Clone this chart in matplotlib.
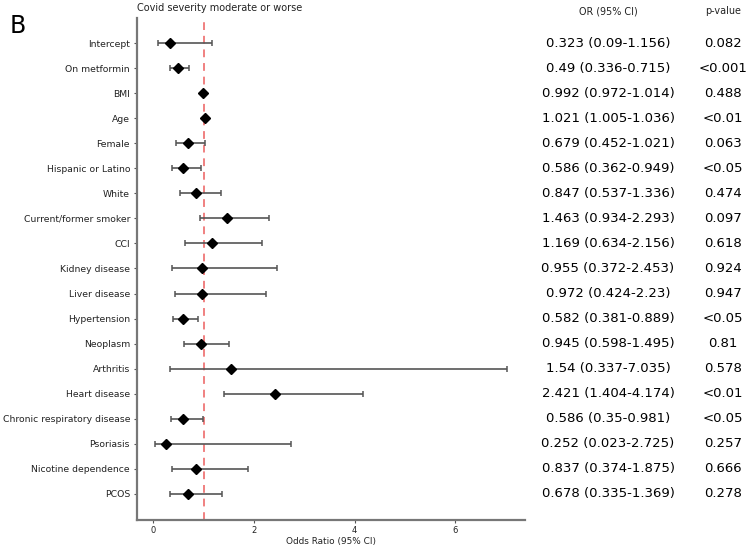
import numpy as np
import matplotlib
matplotlib.use("Agg")
from matplotlib import pyplot as plt
from matplotlib.transforms import blended_transform_factory

labels = ["Intercept", "On metformin", "BMI", "Age", "Female", "Hispanic or Latino",
          "White", "Current/former smoker", "CCI", "Kidney disease", "Liver disease",
          "Hypertension", "Neoplasm", "Arthritis", "Heart disease",
          "Chronic respiratory disease", "Psoriasis", "Nicotine dependence", "PCOS"]
odds = [0.323, 0.49, 0.992, 1.021, 0.679, 0.586, 0.847, 1.463, 1.169, 0.955, 0.972,
        0.582, 0.945, 1.54, 2.421, 0.586, 0.252, 0.837, 0.678]
lower = [0.09, 0.336, 0.972, 1.005, 0.452, 0.362, 0.537, 0.934, 0.634, 0.372, 0.424,
         0.381, 0.598, 0.337, 1.404, 0.35, 0.023, 0.374, 0.335]
upper = [1.156, 0.715, 1.014, 1.036, 1.021, 0.949, 1.336, 2.293, 2.156, 2.453, 2.23,
         0.889, 1.495, 7.035, 4.174, 0.981, 2.725, 1.875, 1.369]
pvals = ["0.082", "<0.001", "0.488", "<0.01", "0.063", "<0.05", "0.474", "0.097", "0.618",
         "0.924", "0.947", "<0.05", "0.81", "0.578", "<0.01", "<0.05", "0.257", "0.666", "0.278"]

odds = np.array(odds)
lower = np.array(lower)
upper = np.array(upper)
y = np.arange(len(labels))

fig = plt.figure(figsize=(7.5, 5.47), dpi=100)
ax = fig.add_axes([137 / 750, 27 / 547, (525 - 137) / 750, (520 - 18) / 547])

# CI whiskers, point estimates and the OR=1 reference line
ax.errorbar(odds, y, xerr=[odds - lower, upper - odds], fmt="none",
            ecolor="#555555", elinewidth=1.2, capsize=2.5, capthick=1.1, zorder=2)
ax.plot(odds, y, "D", color="black", ms=5, zorder=3)
ax.axvline(1, color="#f08080", ls=(0, (4, 3)), lw=1.4, zorder=1)

ax.set_ylim(len(labels) - 1 + 1.04, -1)
ax.set_yticks(y)
ax.set_yticklabels(labels, fontsize=6.7, color="#222222")
ax.set_xticks([0, 2, 4, 6])
ax.tick_params(axis="x", labelsize=6, length=2.5, pad=2, color="#555555", labelcolor="#222222")
ax.tick_params(axis="y", length=2.5, pad=2.5, color="#555555")
ax.set_xlabel("Odds Ratio (95% CI)", fontsize=6.4, labelpad=1.5, color="#222222")
for s in ["top", "right"]:
    ax.spines[s].set_visible(False)
for s in ["left", "bottom"]:
    ax.spines[s].set_color("#777777")
    ax.spines[s].set_linewidth(1.6)

ax.set_title("Covid severity moderate or worse", loc="left", fontsize=7, pad=5, color="#222222")
fig.text(18 / 750, 1 - 26 / 547, "B", fontsize=17, va="center", ha="center")

# table columns on the right
fig.text(608 / 750, 1 - 11 / 547, "OR (95% CI)", ha="center", va="center", fontsize=6.9,
         color="#222222")
fig.text(723 / 750, 1 - 11 / 547, "p-value", ha="center", va="center", fontsize=6.9,
         color="#222222")
trans = blended_transform_factory(fig.transFigure, ax.transData)
for i in range(len(labels)):
    or_txt = f"{odds[i]:g} ({lower[i]:g}-{upper[i]:g})"
    ax.text(608 / 750, y[i], or_txt, transform=trans, ha="center", va="center",
            fontsize=9.5)
    ax.text(723 / 750, y[i], pvals[i], transform=trans, ha="center", va="center",
            fontsize=9.5)

fig.savefig("out.png", dpi=100)
